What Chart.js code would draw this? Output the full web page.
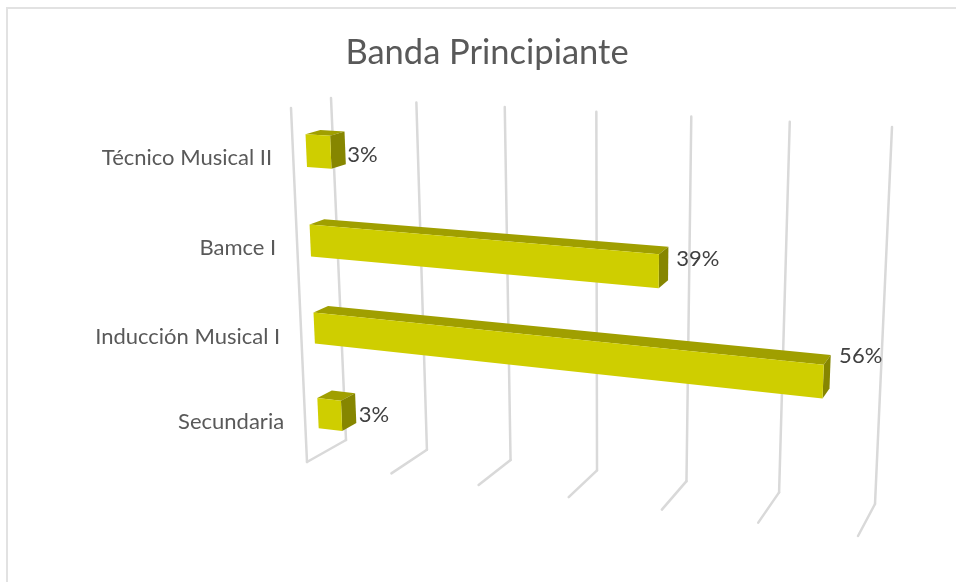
<!DOCTYPE html>
<html>
<head>
<meta charset="utf-8">
<title>Banda Principiante</title>
<script src="https://cdn.jsdelivr.net/npm/chart.js@4"></script>
<style>
  html, body { margin: 0; padding: 0; background: #fff; }
  #box { width: 956px; height: 582px; }
</style>
</head>
<body>
<div id="box"><canvas id="chart" width="956" height="582"></canvas></div>
<script>
const categories = ["Técnico Musical II", "Bamce I", "Inducción Musical I", "Secundaria"];
const percentages = [3, 39, 56, 3];
const axisMax = 60;
const axisStep = 10;

const FONT = "Lato, 'Open Sans', sans-serif";
const BAR_FRONT = "#cfce00";
const BAR_TOP = "#a09f00";
const BAR_SIDE = "#868600";
const GRID = "#d9d9d9";

// box of the 3d view, corners as seen on screen
const frontQuad = [[291, 108], [875, 147], [858, 536], [307, 462]];
const backQuad = [[331, 98], [892, 127], [875, 504], [346, 440]];
const barNear = 0.33;
const barFar = 0.7;

// unit square -> quad
function squareToQuad(q) {
  const [x0, y0] = q[0], [x1, y1] = q[1], [x2, y2] = q[2], [x3, y3] = q[3];
  const dx1 = x1 - x2, dx2 = x3 - x2, sx = x0 - x1 + x2 - x3;
  const dy1 = y1 - y2, dy2 = y3 - y2, sy = y0 - y1 + y2 - y3;
  const det = dx1 * dy2 - dx2 * dy1;
  const g = (sx * dy2 - dx2 * sy) / det;
  const h = (dx1 * sy - sx * dy1) / det;
  return (u, v) => {
    const d = g * u + h * v + 1;
    return [
      ((x1 - x0 + g * x1) * u + (x3 - x0 + h * x3) * v + x0) / d,
      ((y1 - y0 + g * y1) * u + (y3 - y0 + h * y3) * v + y0) / d,
    ];
  };
}
const toFront = squareToQuad(frontQuad);
const toBack = squareToQuad(backQuad);

// depth: 0 = front of the box, 1 = back wall
function project(chart, px, py, depth) {
  const a = chart.chartArea;
  const u = (px - a.left) / (a.right - a.left);
  const v = (py - a.top) / (a.bottom - a.top);
  const f = toFront(u, v), b = toBack(u, v);
  return [f[0] + (b[0] - f[0]) * depth, f[1] + (b[1] - f[1]) * depth];
}

function poly(ctx, pts, color) {
  ctx.beginPath();
  pts.forEach((p, i) => (i ? ctx.lineTo(p[0], p[1]) : ctx.moveTo(p[0], p[1])));
  ctx.closePath();
  ctx.fillStyle = color;
  ctx.fill();
}

function line(ctx, a, b) {
  ctx.beginPath();
  ctx.moveTo(a[0], a[1]);
  ctx.lineTo(b[0], b[1]);
  ctx.stroke();
}

// nudges for text, Excel placed these by hand
const catLabelShift = [[-21, 3], [-21, 3], [-21, 3], [-21, 2]];
const valueLabelShift = [[2, 7], [8, -5], [9, -16], [3, 7]];

const view3d = {
  id: "view3d",
  beforeDraw(chart) {
    const ctx = chart.ctx;
    ctx.save();
    ctx.fillStyle = "#fff";
    ctx.fillRect(0, 0, chart.width, chart.height);
    ctx.strokeStyle = "#e2e2e2";
    ctx.lineWidth = 2;
    ctx.beginPath();
    ctx.moveTo(7, chart.height);
    ctx.lineTo(7, 8);
    ctx.lineTo(chart.width, 8);
    ctx.stroke();
    ctx.restore();
  },
  beforeDatasetsDraw(chart) {
    const ctx = chart.ctx;
    const xs = chart.scales.x, ys = chart.scales.y;
    ctx.save();
    ctx.strokeStyle = GRID;
    ctx.lineWidth = 2.5;
    ctx.lineCap = "round";
    // left wall
    line(ctx, project(chart, xs.left, ys.top, 0), project(chart, xs.left, ys.bottom, 0));
    xs.ticks.forEach((t) => {
      const px = xs.getPixelForValue(t.value);
      const floorBack = project(chart, px, ys.bottom, 1);
      line(ctx, project(chart, px, ys.top, 1), floorBack);
      line(ctx, floorBack, project(chart, px, ys.bottom, 0));
    });
    // category labels
    ctx.font = "22px " + FONT;
    ctx.fillStyle = "#595959";
    ctx.textAlign = "right";
    ctx.textBaseline = "middle";
    categories.forEach((name, i) => {
      const p = project(chart, xs.left, ys.getPixelForValue(i), 0);
      ctx.fillText(name, p[0] + catLabelShift[i][0], p[1] + catLabelShift[i][1]);
    });
    ctx.restore();
  },
  // replaces the flat bar drawing with the box
  beforeDatasetDraw(chart, args) {
    const ctx = chart.ctx;
    const meta = chart.getDatasetMeta(args.index);
    ctx.save();
    meta.data.forEach((bar, i) => {
      const top = bar.y - bar.height / 2, bottom = bar.y + bar.height / 2;
      const l = bar.base;
      // bars stop a little short of the grid in the perspective view
      const r = l + (bar.x - l) * 0.992 - 2;
      const fTL = project(chart, l, top, barNear), fTR = project(chart, r, top, barNear);
      const fBL = project(chart, l, bottom, barNear), fBR = project(chart, r, bottom, barNear);
      const bTL = project(chart, l, top, barFar), bTR = project(chart, r, top, barFar);
      const bBR = project(chart, r, bottom, barFar);
      poly(ctx, [fTL, fTR, bTR, bTL], BAR_TOP);
      poly(ctx, [fTR, bTR, bBR, fBR], BAR_SIDE);
      poly(ctx, [fTL, fTR, fBR, fBL], BAR_FRONT);

      const c = project(chart, r, bar.y, barFar);
      ctx.font = "22px " + FONT;
      ctx.fillStyle = "#404040";
      ctx.textAlign = "left";
      ctx.textBaseline = "middle";
      ctx.fillText(percentages[i] + "%", c[0] + valueLabelShift[i][0], c[1] + valueLabelShift[i][1]);
    });
    ctx.restore();
    return false;
  },
};

new Chart(document.getElementById("chart"), {
  type: "bar",
  data: {
    labels: categories,
    datasets: [{
      label: "Banda Principiante",
      data: percentages,
      backgroundColor: BAR_FRONT,
      categoryPercentage: 0.9,
      barPercentage: 0.4,
    }],
  },
  options: {
    indexAxis: "y",
    responsive: false,
    animation: false,
    layout: { padding: { left: 18 } },
    plugins: {
      legend: { display: false },
      tooltip: { enabled: false },
      title: {
        display: true,
        text: "Banda Principiante",
        color: "#595959",
        font: { family: FONT, size: 34.5, weight: "normal" },
        padding: { top: 32, bottom: 20 },
      },
    },
    scales: {
      x: { display: false, min: 0, max: axisMax, ticks: { stepSize: axisStep } },
      y: { display: false },
    },
  },
  plugins: [view3d],
});
</script>
</body>
</html>
